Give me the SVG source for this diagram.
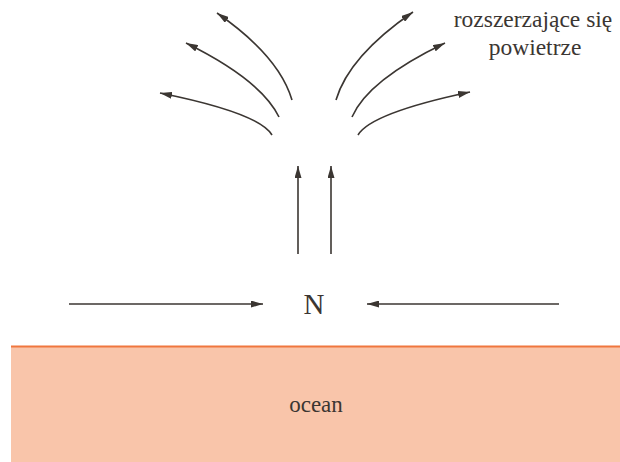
<svg xmlns="http://www.w3.org/2000/svg" width="620" height="462" viewBox="0 0 620 462">
<defs>
<marker id="ah" markerUnits="userSpaceOnUse" markerWidth="12" markerHeight="7" refX="12" refY="3.5" orient="auto">
<path d="M0,0 L12,3.5 L0,7 z" fill="#3b3632"/>
</marker>
<style>
.lbl{fill:#3b3632;text-anchor:middle}
.c{fill:none;stroke:#3b3632;stroke-width:1.6;marker-end:url(#ah)}
</style>
</defs>
<rect width="620" height="462" fill="#ffffff"/>
<g id="ocean">
<rect x="11" y="346" width="609" height="116" fill="#f9c5aa"/>
<line x1="11" y1="346.5" x2="620" y2="346.5" stroke="#f0773e" stroke-width="2"/>
<text class="lbl" x="316" y="412" font-size="23" font-family="'Liberation Serif','DejaVu Serif',serif">ocean</text>
</g>
<g id="N">
<text class="lbl" x="314" y="314" font-size="29" font-family="'Liberation Serif','DejaVu Serif',serif">N</text>
</g>
<g id="air">
<text class="lbl" x="533" y="27" font-size="23.5" font-family="'Liberation Serif','DejaVu Serif',serif">rozszerzające się</text>
<text class="lbl" x="535" y="55" font-size="23.5" font-family="'Liberation Serif','DejaVu Serif',serif">powietrze</text>
</g>
<g id="connectors">
<path class="c" d="M292,100 Q279,56 217,13"/>
<path class="c" d="M279,117 Q261,80 186,43"/>
<path class="c" d="M272,135 Q259,113 160,93"/>
<path class="c" d="M336,100 Q349,56 413,12"/>
<path class="c" d="M352,117 Q368,80 445,43"/>
<path class="c" d="M358,135 Q371,113 470,92"/>
<path class="c" d="M298,254 L298,166"/>
<path class="c" d="M331,254 L331,166"/>
<path class="c" d="M69,304 L263,304"/>
<path class="c" d="M559,304 L367,304"/>
</g>
</svg>
